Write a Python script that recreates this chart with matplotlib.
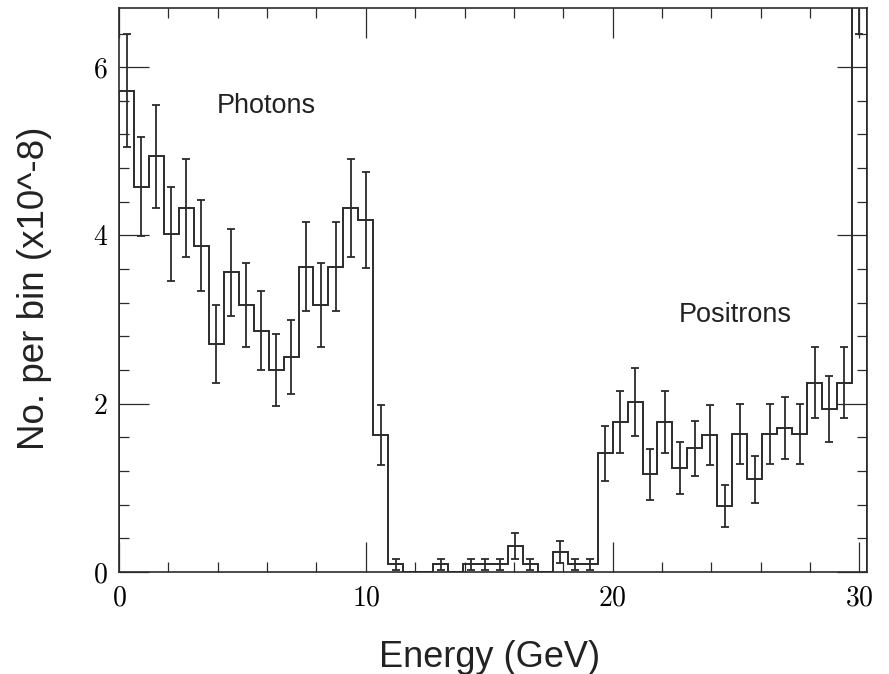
import matplotlib
matplotlib.use("Agg")
import matplotlib.pyplot as plt
import numpy as np
from matplotlib.ticker import MultipleLocator, FuncFormatter

plt.rcParams["mathtext.fontset"] = "cm"
plt.rcParams["font.family"] = ["Liberation Sans", "DejaVu Sans"]

# counts per bin (x10^-8), 50 bins from 0 to 30.3 GeV
counts = [5.72, 4.58, 4.94, 4.02, 4.33, 3.88, 2.71, 3.56, 3.17, 2.87,
          2.40, 2.56, 3.63, 3.17, 3.63, 4.33, 4.18, 1.63, 0.09, 0.0,
          0.0, 0.09, 0.0, 0.09, 0.09, 0.09, 0.31, 0.09, 0.0, 0.24,
          0.09, 0.09, 1.41, 1.78, 2.02, 1.16, 1.78, 1.24, 1.47, 1.63,
          0.78, 1.64, 1.10, 1.64, 1.71, 1.64, 2.25, 1.94, 2.25, 7.20]
errors = [0.67, 0.59, 0.61, 0.56, 0.58, 0.54, 0.46, 0.52, 0.50, 0.47,
          0.43, 0.44, 0.53, 0.50, 0.53, 0.58, 0.57, 0.36, 0.07, 0.0,
          0.0, 0.07, 0.0, 0.07, 0.07, 0.07, 0.15, 0.07, 0.0, 0.13,
          0.07, 0.07, 0.33, 0.37, 0.40, 0.30, 0.37, 0.31, 0.33, 0.36,
          0.25, 0.36, 0.28, 0.36, 0.37, 0.36, 0.42, 0.39, 0.42, 0.80]
e_min, e_max = 0.0, 30.3
x_ticks = [0, 10, 20, 30]
y_ticks = [0, 2, 4, 6]

line_c = "#2b2b2b"


def draw_energy_fig():
    counts_a = np.array(counts)
    errors_a = np.array(errors)
    edges = np.linspace(e_min, e_max, len(counts) + 1)
    centres = 0.5 * (edges[:-1] + edges[1:])

    fig = plt.figure(figsize=(8.89, 6.74), dpi=100)
    ax = fig.add_axes([0.1339, 0.1513, 0.8412, 0.8364])

    ax.stairs(counts_a, edges, baseline=0, color=line_c, linewidth=1.4)
    mask = counts_a > 0  # empty bins get no error bar
    ax.errorbar(centres[mask], counts_a[mask], yerr=errors_a[mask], fmt="none",
                ecolor=line_c, elinewidth=1.3, capsize=3.2, capthick=1.3)

    ax.set_xlim(e_min, e_max)
    ax.set_ylim(0, 6.7)
    ax.set_xticks(x_ticks)
    ax.set_yticks(y_ticks)
    ax.xaxis.set_minor_locator(MultipleLocator(2))
    ax.yaxis.set_minor_locator(MultipleLocator(0.4))
    fmt = FuncFormatter(lambda v, p: "$%d$" % v)
    ax.xaxis.set_major_formatter(fmt)
    ax.yaxis.set_major_formatter(fmt)
    ax.tick_params(which="both", direction="in", top=True, right=True,
                   color=line_c, width=0.9, labelsize=20)
    ax.tick_params(which="major", length=21.6)
    ax.tick_params(which="minor", length=7.2)
    ax.tick_params(axis="x", pad=10)
    ax.tick_params(axis="y", pad=8)
    for s in ax.spines.values():
        s.set_linewidth(1.2)
        s.set_color(line_c)

    ax.text(3.94, 5.45, "Photons", fontsize=19.5, va="baseline", color="#222222")
    ax.text(22.68, 2.97, "Positrons", fontsize=19.5, va="baseline", color="#222222")

    fig.text(0.551, 0.0108, "Energy (GeV)", ha="center", va="baseline",
             fontsize=26, color="#222222")
    fig.text(0.049, 0.572, "No. per bin (x10^-8)", rotation=90,
             rotation_mode="anchor", ha="center", va="baseline",
             fontsize=26.5, color="#222222")

    fig.savefig("out.png", dpi=100)
    plt.close()


if __name__ == '__main__':
    draw_energy_fig()
